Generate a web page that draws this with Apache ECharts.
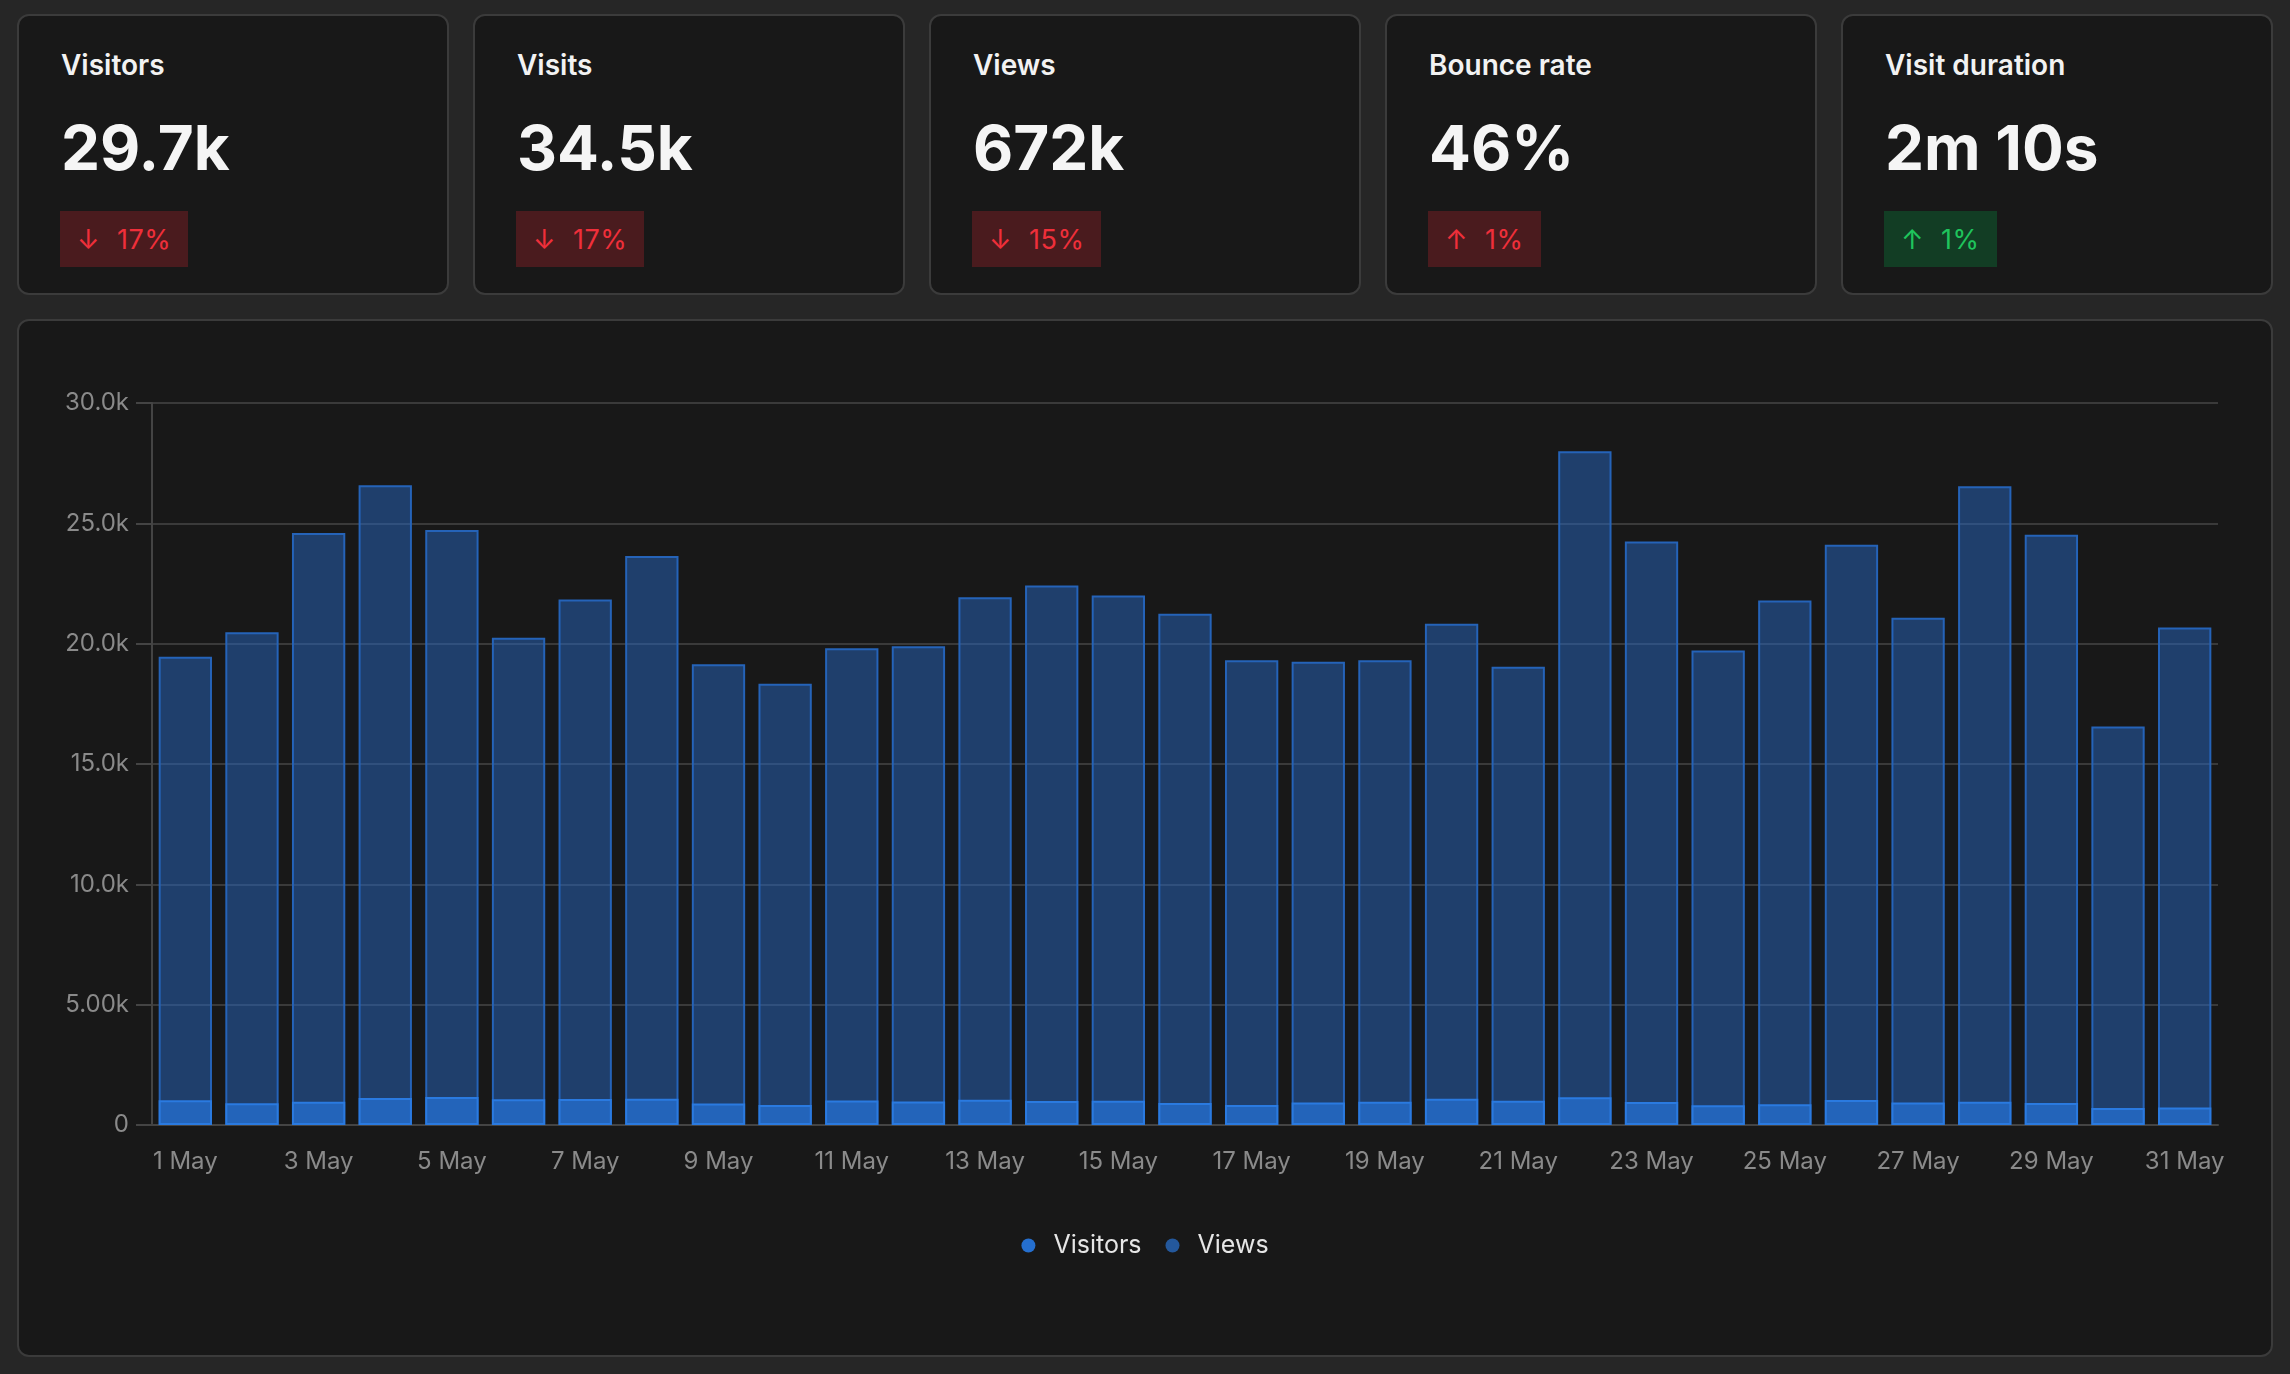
<!DOCTYPE html>
<html>
<head>
<meta charset="utf-8">
<title>Visitors dashboard</title>
<script src="https://cdn.jsdelivr.net/npm/echarts@6/dist/echarts.min.js"></script>
<style>
  html, body {
    margin: 0;
    padding: 0;
    width: 2290px;
    height: 1374px;
    background: #262626;
    font-family: Inter, "Noto Sans", sans-serif;
    overflow: hidden;
  }
  .card {
    position: absolute;
    box-sizing: border-box;
    background: #181818;
    border: 2px solid #3b3b3b;
    border-radius: 12px;
  }
  .stat { top: 14px; width: 432px; height: 281px; }
  .stat .label {
    position: absolute; left: 42px; top: 35px;
    font-size: 28px; line-height: 28px; font-weight: 600; color: #f2f2f2;
  }
  .stat .value {
    position: absolute; left: 42px; top: 101px;
    font-size: 62px; line-height: 62px; font-weight: 700; color: #f5f5f5;
  }
  .stat .badge {
    position: absolute; left: 41px; top: 195px; height: 56px;
    box-sizing: border-box; padding: 0 17px;
    display: flex; align-items: center; gap: 17px;
    font-size: 27px; font-weight: 400; letter-spacing: 0.5px;
  }
  .badge.down, .badge.upbad { background: #4a1b1e; color: #ef2f3a; }
  .badge.up { background: #123d24; color: #1fc45c; }
  #chartCard { left: 17px; top: 319px; width: 2256px; height: 1038px; }
  #myChart { position: absolute; left: 0; top: 0; width: 2290px; height: 1374px; }
</style>
</head>
<body>
<div id="cards"></div>
<div class="card" id="chartCard"></div>
<div id="myChart"></div>

<script>
  // 顶部统计卡片
  const statLabels = ['Visitors', 'Visits', 'Views', 'Bounce rate', 'Visit duration']
  const statValues = ['29.7k', '34.5k', '672k', '46%', '2m 10s']
  const statChanges = ['17%', '17%', '15%', '1%', '1%']
  const statTrend = ['down', 'down', 'down', 'upbad', 'up']

  // 图表数据
  const days = []
  for (let d = 1; d <= 31; d++) days.push(d + ' May')
  const visitors = [1030, 900, 970, 1120, 1160, 1070, 1080, 1090, 890, 830,
                    1020, 980, 1050, 1000, 1010, 910, 830, 940, 970, 1090,
                    1010, 1150, 960, 820, 860, 1040, 930, 970, 910, 710, 730]
  const views = [19460, 20470, 24600, 26580, 24720, 20250, 21830, 23640, 19140, 18330,
                 19810, 19890, 21930, 22420, 22000, 21240, 19310, 19250, 19310, 20830,
                 19040, 27990, 24250, 19720, 21790, 24110, 21080, 26540, 24530, 16560, 20670]
  const yTickLabels = ['0', '5.00k', '10.0k', '15.0k', '20.0k', '25.0k', '30.0k']

  let html = ''
  statLabels.forEach((name, i) => {
    const arrow = statTrend[i] === 'down' ? '↓' : '↑'
    html += '<div class="card stat" style="left:' + (17 + i * 456) + 'px">' +
      '<div class="label">' + name + '</div>' +
      '<div class="value">' + statValues[i] + '</div>' +
      '<div class="badge ' + statTrend[i] + '"><span>' + arrow + '</span><span>' + statChanges[i] + '</span></div>' +
      '</div>'
  })
  document.getElementById('cards').innerHTML = html

  let myChart = echarts.init(document.getElementById('myChart'))
  const axisColor = '#444444'
  const labelColor = '#8a8a8a'

  myChart.setOption({
    backgroundColor: 'transparent',
    animation: false,
    textStyle: { fontFamily: 'Inter' },
    grid: { left: 152, top: 403, width: 2066, height: 722 },
    legend: {
      top: 1228,
      left: 'center',
      icon: 'circle',
      itemWidth: 28,
      itemHeight: 14,
      itemGap: 24,
      textStyle: { color: '#e6e6e6', fontSize: 25, padding: [0, 0, 0, 6] },
      data: [
        { name: 'Visitors', itemStyle: { color: '#256fcf', borderWidth: 0 } },
        { name: 'Views', itemStyle: { color: '#24589c', borderWidth: 0 } }
      ]
    },
    xAxis: {
      type: 'category',
      data: days,
      axisLine: { show: true, lineStyle: { color: axisColor, width: 2 } },
      axisTick: { show: false },
      axisLabel: { interval: 1, color: labelColor, fontSize: 24, margin: 25 }
    },
    yAxis: {
      type: 'value',
      min: 0,
      max: 30000,
      interval: 5000,
      axisLine: { show: true, lineStyle: { color: axisColor, width: 2 } },
      axisTick: { show: true, length: 16, lineStyle: { color: axisColor, width: 2 } },
      axisLabel: {
        color: labelColor, fontSize: 24, margin: 23,
        formatter: v => yTickLabels[Math.round(v / 5000)]
      },
      splitLine: { lineStyle: { color: '#3a3a3a', width: 2 } }
    },
    series: [
      {
        name: 'Visitors',
        type: 'bar',
        data: visitors,
        barWidth: '80%',
        barGap: '-100%',
        z: 3,
        itemStyle: { color: '#2364ba', borderColor: '#2a7ae0', borderWidth: 2 }
      },
      {
        name: 'Views',
        type: 'bar',
        data: views,
        barWidth: '80%',
        z: 2,
        itemStyle: { color: 'rgba(38,102,192,0.5)', borderColor: '#2563b8', borderWidth: 2 }
      }
    ]
  })
</script>
</body>
</html>
